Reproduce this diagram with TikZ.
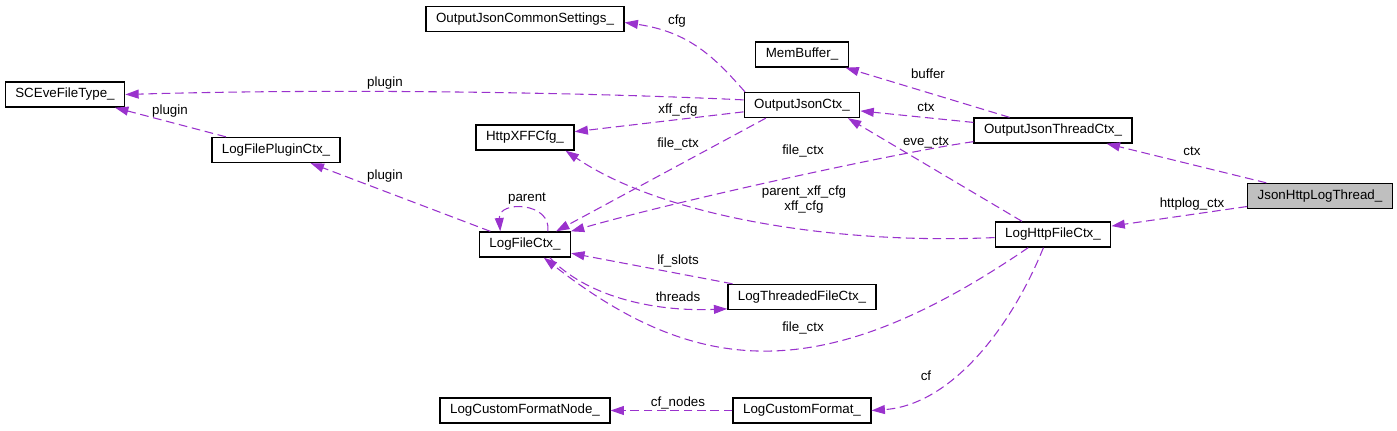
\documentclass[tikz,border=0pt]{standalone}
\usepackage{fontspec}
\setmainfont{Liberation Sans}
\usetikzlibrary{arrows.meta}

\begin{document}
\begin{tikzpicture}[x=0.75pt,y=-0.75pt,
    box/.style={draw=black, line width=1pt, fill=white, minimum height=18.75pt,
        inner xsep=7.5pt, inner ysep=0pt, font=\fontsize{10}{12}\selectfont},
    rel/.style={draw=edgeColour, line width=0.8pt, dash pattern=on 6.5pt off 3.5pt,
        -{Triangle[length=10pt,width=6.7pt]}},
    lbl/.style={inner sep=0pt, font=\fontsize{10}{11.25}\selectfont, align=center}]
    % Define colours
    \definecolor{edgeColour}{HTML}{9A32CD}
    \definecolor{mainFill}{HTML}{BFBFBF}

    % Fix the page size
    \useasboundingbox (0,0) rectangle (1397,431);

    % Place the classes
    \node[box] (sceve) at (65,94.5) {SCEveFileType\_};
    \node[box] (lfpc) at (276,150) {LogFilePluginCtx\_};
    \node[box] (ojcs) at (525,19) {OutputJsonCommonSettings\_};
    \node[box] (hxff) at (525,137.5) {HttpXFFCfg\_};
    \node[box] (lfc) at (525,244.5) {LogFileCtx\_};
    \node[box] (lcfn) at (525,410.5) {LogCustomFormatNode\_};
    \node[box] (membuf) at (802,54.5) {MemBuffer\_};
    \node[box] (ojc) at (802,105) {OutputJsonCtx\_};
    \node[box] (ltfc) at (802,297) {LogThreadedFileCtx\_};
    \node[box] (lcf) at (802,410.5) {LogCustomFormat\_};
    \node[box] (ojtc) at (1053,130.5) {OutputJsonThreadCtx\_};
    \node[box] (lhfc) at (1053,234.5) {LogHttpFileCtx\_};
    \node[box, fill=mainFill] (jhl) at (1320,196) {JsonHttpLogThread\_};

    % Draw the relations
    \draw[rel] (jhl) -- (ojtc);
    \draw[rel] (jhl) -- (lhfc);
    \draw[rel] (ojtc) -- (membuf);
    \draw[rel] (ojtc) -- (ojc);
    \draw[rel] (ojtc.188) .. controls (900,152) and (680,200) .. (lfc.16);
    \draw[rel] (ojc.167) .. controls (715,58) and (690,32) .. (ojcs.-2);
    \draw[rel] (ojc.175) .. controls (600,93) and (350,88) .. (sceve.east);
    \draw[rel] (ojc) -- (hxff);
    \draw[rel] (ojc.200) -- (lfc.23);
    \draw[rel] (lfpc) -- (sceve);
    \draw[rel] (lfc) -- (lfpc);
    \draw[rel] (lfc.30) .. controls (552,202) and (498,200) .. (lfc.152);
    \draw[rel] (lhfc.157) -- (ojc.-16);
    \draw[rel] (lhfc.183) .. controls (830,245) and (660,215) .. (hxff.-18);
    \draw[rel] (lhfc.208) .. controls (827,385) and (700,380) .. (lfc.-35);
    \draw[rel] (lhfc.234) .. controls (1010,330) and (950,405) .. (lcf.east);
    \draw[rel] (lcf) -- (lcfn);
    \draw[rel] (ltfc) -- (lfc);
    \draw[rel] (lfc.-28) .. controls (585,295) and (650,312) .. (ltfc.189);

    % Label the relations
    \node[lbl] (lctxa) at (1192,151) {ctx};
    \node[lbl] (lhttplog) at (1192,204) {httplog\_ctx};
    \node[lbl] (lbuffer) at (928,74) {buffer};
    \node[lbl] (lctxb) at (926,107) {ctx};
    \node[lbl] (lfilea) at (803,151) {file\_ctx};
    \node[lbl] (leve) at (926,143) {eve\_ctx};
    \node[lbl] (lcfg) at (677,21) {cfg};
    \node[lbl] (lpluga) at (385,83) {plugin};
    \node[lbl] (lxff) at (678,110) {xff\_cfg};
    \node[lbl] (lfileb) at (678,144) {file\_ctx};
    \node[lbl] (lplugb) at (170,111) {plugin};
    \node[lbl] (lplugc) at (385,176) {plugin};
    \node[lbl] (lparent) at (527,199) {parent};
    \node[lbl] (lparxff) at (804,200) {parent\_xff\_cfg\\xff\_cfg};
    \node[lbl] (lslots) at (678,261) {lf\_slots};
    \node[lbl] (lthreads) at (678,297) {threads};
    \node[lbl] (lfilec) at (803,328) {file\_ctx};
    \node[lbl] (lcf) at (926,376) {cf};
    \node[lbl] (lnodes) at (678,403) {cf\_nodes};

\end{tikzpicture}
\end{document}
